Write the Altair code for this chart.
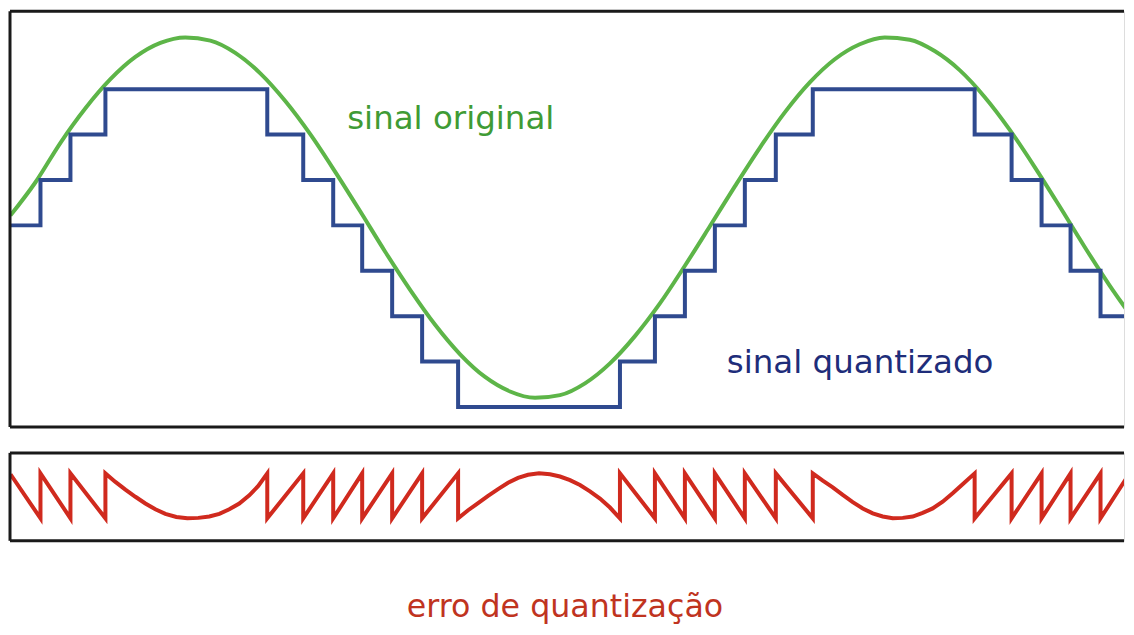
import altair as alt
import pandas as pd

# ---- data (t = horizontal position, v = level units) ----
sig_t = [10, 35, 60, 85, 110, 135, 160, 185, 210, 235, 260, 285, 310, 335, 360, 385,
         410, 435, 460, 485, 510, 535, 560, 585, 610, 635, 660, 685, 710, 735, 760,
         785, 810, 835, 860, 885, 910, 935, 960, 985, 1010, 1035, 1060, 1085, 1110, 1135]
sig_v = [4.22, 4.95, 5.82, 6.58, 7.22, 7.71, 8.02, 8.14, 8.07, 7.80, 7.35, 6.74, 6.01,
         5.18, 4.31, 3.42, 2.58, 1.81, 1.16, 0.66, 0.34, 0.20, 0.26, 0.52, 0.96, 1.56,
         2.28, 3.11, 3.98, 4.86, 5.71, 6.49, 7.15, 7.66, 7.99, 8.14, 8.09, 7.84, 7.42,
         6.83, 6.11, 5.29, 4.42, 3.53, 2.68, 1.90]

q_t = [9, 40, 70, 105, 267, 303, 333, 362, 392, 422, 458, 620, 655, 685, 715, 745,
       776, 813, 975, 1012, 1042, 1071, 1101, 1130, 1135]
q_v = [4, 5, 6, 7, 6, 5, 4, 3, 2, 1, 0, 1, 2, 3, 4, 5, 6, 7, 6, 5, 4, 3, 2, 1, 1]

err_t = [10, 40, 40, 70, 70, 105,
         105, 115, 125, 135, 145, 155, 165, 176, 187, 198, 209, 219, 229, 239, 249, 258, 267,
         267, 303, 303, 333, 333, 362, 362, 392, 392, 422, 422, 458,
         458, 468, 478, 488, 498, 508, 518, 528, 539, 550, 560, 570, 580, 590, 600, 610, 620,
         620, 655, 655, 685, 685, 715, 715, 745, 745, 776, 776, 813,
         813, 823, 833, 843, 853, 863, 873, 883, 893, 903, 913, 923, 933, 943, 953, 963, 975,
         975, 1012, 1012, 1042, 1042, 1071, 1071, 1101, 1101, 1130, 1130, 1135]
err_e = [0.02, 1, 0, 1, 0, 1,
         0, 0.19, 0.36, 0.52, 0.67, 0.80, 0.90, 0.97, 1.0, 0.99, 0.96, 0.90, 0.80, 0.67, 0.49, 0.28, 0,
         1, 0, 1, 0, 1, 0, 1, 0, 1, 0, 1, 0,
         1, 0.82, 0.66, 0.50, 0.35, 0.21, 0.10, 0.03, 0, 0.02, 0.07, 0.15, 0.26, 0.40, 0.56, 0.76, 1,
         0, 1, 0, 1, 0, 1, 0, 1, 0, 1, 0, 1,
         0, 0.16, 0.31, 0.48, 0.64, 0.78, 0.89, 0.96, 1.0, 0.99, 0.96, 0.88, 0.78, 0.63, 0.44, 0.24, 0,
         1, 0, 1, 0, 1, 0, 1, 0, 1, 0, 1, 0.83]

labels = ["sinal original", "sinal quantizado"]
label_t = [347, 727]
label_v = [6.12, 0.75]

# ---- styling ----
W = 1115
H_TOP = 416
H_BOT = 88
FONT = "DejaVu Sans"
GREEN = "#5db548"
BLUE = "#2f4a8f"
RED = "#d02a1e"
BORDER = "#1a1a1a"

sig = pd.DataFrame({"t": sig_t, "v": sig_v})
qdf = pd.DataFrame({"t": q_t, "v": q_v})
edf = pd.DataFrame({"t": err_t, "e": err_e, "i": list(range(len(err_t)))})
ldf = pd.DataFrame({"label": labels, "t": label_t, "v": label_v})
one = pd.DataFrame({"a": [0]})

xs = alt.Scale(domain=[9.5, 9.5 + W], nice=False, zero=False)
ys = alt.Scale(domain=[-0.44, 8.717], nice=False, zero=False)
es = alt.Scale(domain=[-0.456, 1.5], nice=False, zero=False, reverse=True)

X = alt.X("t:Q", scale=xs, axis=None)
Y = alt.Y("v:Q", scale=ys, axis=None)


def borders(h):
    top = alt.Chart(one).mark_rule(color=BORDER, strokeWidth=3).encode(
        x=alt.value(0), x2=alt.value(W), y=alt.value(0))
    bot = alt.Chart(one).mark_rule(color=BORDER, strokeWidth=3).encode(
        x=alt.value(0), x2=alt.value(W), y=alt.value(h))
    left = alt.Chart(one).mark_rule(color=BORDER, strokeWidth=3).encode(
        x=alt.value(0), y=alt.value(0), y2=alt.value(h))
    return [top, bot, left]


green = alt.Chart(sig).mark_line(color=GREEN, strokeWidth=4, interpolate="monotone",
                                 clip=True).encode(x=X, y=Y)
blue = alt.Chart(qdf).mark_line(color=BLUE, strokeWidth=4, interpolate="step-after",
                                clip=True).encode(x=X, y=Y)
lab1 = alt.Chart(ldf[ldf.label == labels[0]]).mark_text(
    align="left", baseline="alphabetic", font=FONT, fontSize=32.5, color="#3f9b35"
).encode(x=X, y=Y, text="label:N")
lab2 = alt.Chart(ldf[ldf.label == labels[1]]).mark_text(
    align="left", baseline="alphabetic", font=FONT, fontSize=32.5, color="#1e2d7a"
).encode(x=X, y=Y, text="label:N")

top = alt.layer(green, blue, lab1, lab2, *borders(H_TOP)).properties(width=W, height=H_TOP)

red = alt.Chart(edf).mark_line(color=RED, strokeWidth=4, clip=True).encode(
    x=X, y=alt.Y("e:Q", scale=es, axis=None), order="i:Q")
bottom = alt.layer(red, *borders(H_BOT)).properties(width=W, height=H_BOT)

chart = alt.vconcat(top, bottom, spacing=22).resolve_scale(y="independent").properties(
    title=alt.TitleParams("erro de quantização", orient="bottom", anchor="middle",
                          baseline="alphabetic", offset=74.5, dx=-2, font=FONT,
                          fontSize=31.7, fontWeight="normal", color="#c0341f"),
    padding={"left": 0, "top": 1, "right": 0, "bottom": 0},
).configure_view(stroke=None).configure(background="white")

chart.save("out.html", embed_options={"renderer": "svg", "actions": False})
